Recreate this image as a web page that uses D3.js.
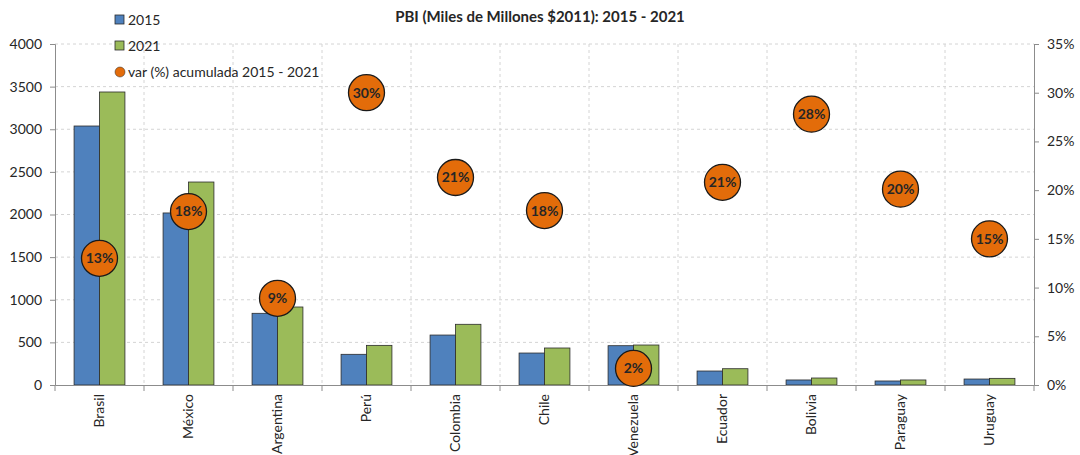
<!DOCTYPE html>
<html>
<head>
<meta charset="utf-8">
<script src="https://cdn.jsdelivr.net/npm/d3@7"></script>
<style>
  body { margin: 0; background: #fff; }
  svg text { font-family: Lato, "Open Sans", sans-serif; fill: #262626; }
</style>
</head>
<body>
<div id="chart"></div>
<script>
const countries = ["Brasil", "México", "Argentina", "Perú", "Colombia", "Chile", "Venezuela", "Ecuador", "Bolivia", "Paraguay", "Uruguay"];
const pbi2015 = [3038, 2018, 841, 360, 586, 375, 461, 164, 59, 47, 70];
const pbi2021 = [3437, 2381, 915, 465, 712, 434, 469, 191, 82, 59, 78];
const varAcum = [0.13, 0.178, 0.089, 0.30, 0.213, 0.179, 0.017, 0.208, 0.278, 0.201, 0.15];
const leftTicks = [0, 500, 1000, 1500, 2000, 2500, 3000, 3500, 4000];
const rightTicks = [0, 0.05, 0.10, 0.15, 0.20, 0.25, 0.30, 0.35];

const width = 1080, height = 455;
const margin = { top: 44, right: 46, bottom: 70, left: 55 };
const blue = "#4F81BD", green = "#9BBB59", orange = "#E36C0A";

const svg = d3.select("#chart").append("svg")
  .attr("width", width)
  .attr("height", height);

const x = d3.scaleBand()
  .domain(countries)
  .range([margin.left, width - margin.right]);

const xSub = d3.scaleBand()
  .domain(["2015", "2021"])
  .range([0, x.bandwidth()])
  .paddingInner(0)
  .paddingOuter(0.75);

const y = d3.scaleLinear()
  .domain([0, 4000])
  .range([height - margin.bottom, margin.top]);

const yR = d3.scaleLinear()
  .domain([0, 0.35])
  .range([height - margin.bottom, margin.top]);

// grid lines
svg.append("g")
  .selectAll("line")
  .data(leftTicks.slice(1))
  .join("line")
  .attr("x1", margin.left)
  .attr("x2", width - margin.right)
  .attr("y1", d => y(d))
  .attr("y2", d => y(d))
  .attr("stroke", "#d4d4d4")
  .attr("stroke-dasharray", "3,3");

svg.append("g")
  .selectAll("line")
  .data(countries.slice(1))
  .join("line")
  .attr("x1", d => x(d))
  .attr("x2", d => x(d))
  .attr("y1", margin.top)
  .attr("y2", height - margin.bottom)
  .attr("stroke", "#d4d4d4")
  .attr("stroke-dasharray", "3,3");

// bars
const groups = svg.append("g")
  .selectAll("g")
  .data(countries)
  .join("g")
  .attr("transform", d => `translate(${x(d)},0)`);

groups.append("rect")
  .attr("x", xSub("2015"))
  .attr("width", xSub.bandwidth())
  .attr("y", (d, i) => y(pbi2015[i]))
  .attr("height", (d, i) => y(0) - y(pbi2015[i]))
  .attr("fill", blue)
  .attr("stroke", "#2b2b2b")
  .attr("stroke-width", 0.8);

groups.append("rect")
  .attr("x", xSub("2021"))
  .attr("width", xSub.bandwidth())
  .attr("y", (d, i) => y(pbi2021[i]))
  .attr("height", (d, i) => y(0) - y(pbi2021[i]))
  .attr("fill", green)
  .attr("stroke", "#2b2b2b")
  .attr("stroke-width", 0.8);

// axes
const axisColor = "#8c8c8c";

const gLeft = svg.append("g")
  .attr("transform", `translate(${margin.left},0)`)
  .call(d3.axisLeft(y).tickValues(leftTicks).tickSize(5).tickPadding(8).tickFormat(d3.format("d")));

const gRight = svg.append("g")
  .attr("transform", `translate(${width - margin.right},0)`)
  .call(d3.axisRight(yR).tickValues(rightTicks).tickSize(5).tickPadding(8).tickFormat(d3.format(".0%")));

const gBottom = svg.append("g")
  .attr("transform", `translate(0,${height - margin.bottom})`)
  .call(d3.axisBottom(x).tickSize(0).tickPadding(0));

// category boundary ticks on bottom axis
svg.append("g")
  .selectAll("line")
  .data(countries)
  .join("line")
  .attr("x1", d => x(d))
  .attr("x2", d => x(d))
  .attr("y1", height - margin.bottom)
  .attr("y2", height - margin.bottom + 6)
  .attr("stroke", axisColor);
svg.append("line")
  .attr("x1", width - margin.right)
  .attr("x2", width - margin.right)
  .attr("y1", height - margin.bottom)
  .attr("y2", height - margin.bottom + 6)
  .attr("stroke", axisColor);

[gLeft, gRight, gBottom].forEach(g => {
  g.select(".domain").attr("stroke", axisColor);
  g.selectAll(".tick line").attr("stroke", axisColor);
  g.selectAll(".tick text").style("font-size", "14px").attr("fill", "#262626");
});

gBottom.selectAll(".tick text")
  .attr("transform", "rotate(-90)")
  .attr("text-anchor", "end")
  .attr("x", -9)
  .attr("y", 0)
  .attr("dy", "0.35em");

// percentage circles
const dots = svg.append("g")
  .selectAll("g")
  .data(countries)
  .join("g")
  .attr("transform", (d, i) => `translate(${x(d) + x.bandwidth() / 2},${yR(varAcum[i])})`);

dots.append("circle")
  .attr("r", 18)
  .attr("fill", orange)
  .attr("stroke", "#1a1a1a")
  .attr("stroke-width", 1.3);

dots.append("text")
  .attr("text-anchor", "middle")
  .attr("dy", "0.35em")
  .style("font-size", "14px")
  .style("font-weight", "bold")
  .attr("fill", "#1a1a1a")
  .text((d, i) => d3.format(".0%")(varAcum[i]));

// title
svg.append("text")
  .attr("x", 540)
  .attr("y", 22)
  .attr("text-anchor", "middle")
  .style("font-size", "15px")
  .style("font-weight", "bold")
  .text("PBI (Miles de Millones $2011): 2015 - 2021");

// legend
const legend = [
  { label: "2015", color: blue, type: "rect" },
  { label: "2021", color: green, type: "rect" },
  { label: "var (%) acumulada 2015 - 2021", color: orange, type: "circle" }
];

const lg = svg.append("g")
  .selectAll("g")
  .data(legend)
  .join("g")
  .attr("transform", (d, i) => `translate(115,${20 + i * 26})`);

lg.filter(d => d.type === "rect").append("rect")
  .attr("x", 0)
  .attr("y", -5)
  .attr("width", 9)
  .attr("height", 9)
  .attr("fill", d => d.color)
  .attr("stroke", "#2b2b2b")
  .attr("stroke-width", 0.8);

lg.filter(d => d.type === "circle").append("circle")
  .attr("cx", 5)
  .attr("cy", 0)
  .attr("r", 5)
  .attr("fill", d => d.color)
  .attr("stroke", "#2b2b2b")
  .attr("stroke-width", 0.5);

lg.append("text")
  .attr("x", 13)
  .attr("dy", "0.35em")
  .style("font-size", "14px")
  .text(d => d.label);
</script>
</body>
</html>
